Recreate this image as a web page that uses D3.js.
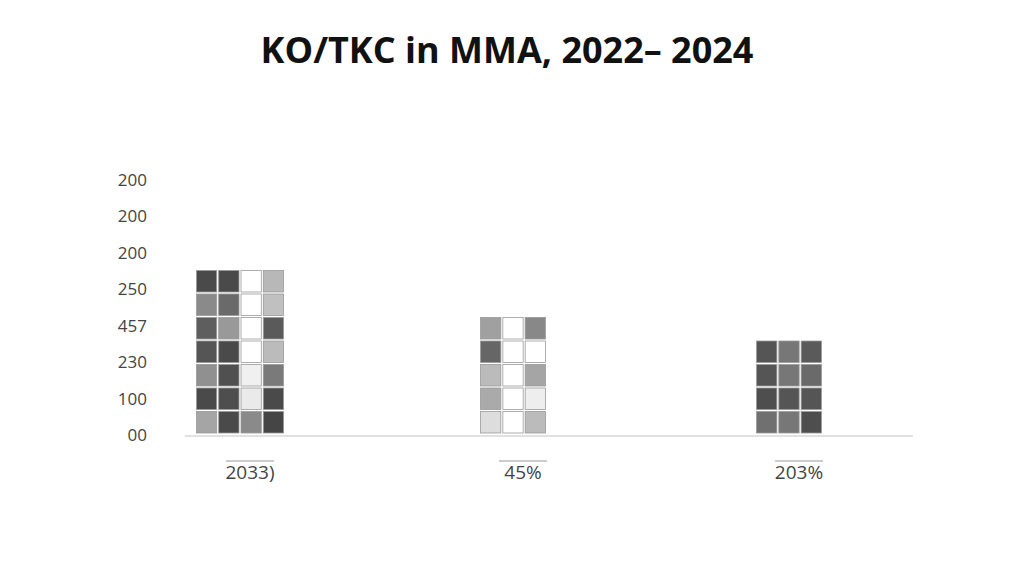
<!DOCTYPE html>
<html>
<head>
<meta charset="utf-8">
<script src="https://cdn.jsdelivr.net/npm/d3@7"></script>
<style>
  body { margin: 0; background: #fff; }
  text { font-family: "Open Sans", "DejaVu Sans", sans-serif; }
</style>
</head>
<body>
<div id="viz"></div>
<script>
const categories = ["2033)", "45%", "203%"];
const yTickLabels = ["200", "200", "200", "250", "457", "230", "100", "00"];
// grey level of each waffle cell, top row first
const cellsA = [
  ["#4a4a4a", "#4a4a4a", "#ffffff", "#b8b8b8"],
  ["#8a8a8a", "#6a6a6a", "#ffffff", "#c0c0c0"],
  ["#5e5e5e", "#999999", "#ffffff", "#5a5a5a"],
  ["#555555", "#4a4a4a", "#ffffff", "#bbbbbb"],
  ["#909090", "#505050", "#f0f0f0", "#7a7a7a"],
  ["#4a4a4a", "#4e4e4e", "#eaeaea", "#4a4a4a"],
  ["#a5a5a5", "#4a4a4a", "#8a8a8a", "#454545"]
];
const cellsB = [
  ["#a0a0a0", "#ffffff", "#888888"],
  ["#666666", "#ffffff", "#ffffff"],
  ["#bbbbbb", "#ffffff", "#a5a5a5"],
  ["#aaaaaa", "#ffffff", "#eeeeee"],
  ["#dddddd", "#ffffff", "#bbbbbb"]
];
const cellsC = [
  ["#555555", "#777777", "#5a5a5a"],
  ["#555555", "#777777", "#6a6a6a"],
  ["#4e4e4e", "#555555", "#555555"],
  ["#707070", "#777777", "#4e4e4e"]
];
const groups = [cellsA, cellsB, cellsC];
const groupCenters = [240, 513, 789];

const width = 1024, height = 585;
const baseY = 436;

const svg = d3.select("#viz").append("svg")
  .attr("width", width).attr("height", height);

svg.append("text")
  .attr("x", 507).attr("y", 63)
  .attr("text-anchor", "middle")
  .attr("font-size", 36).attr("font-weight", 700)
  .attr("font-family", "DejaVu Sans, sans-serif")
  .attr("fill", "#111")
  .text("KO/TKC in MMA, 2022\u2013 2024");

// y axis labels
const y = d3.scalePoint().domain(d3.range(yTickLabels.length)).range([180, 435]);
svg.append("g").selectAll("text")
  .data(yTickLabels)
  .join("text")
  .attr("x", 147).attr("y", (d, i) => y(i) + 6)
  .attr("text-anchor", "end")
  .attr("font-size", 17).attr("fill", "#444")
  .text(d => d);

// baseline
svg.append("line")
  .attr("x1", 185).attr("x2", 913)
  .attr("y1", baseY).attr("y2", baseY)
  .attr("stroke", "#c4c4c4").attr("stroke-width", 1.2);

const cellW = 22.3, cellH = 23.5;
const rowScale = d3.scaleLinear().domain([0, 1]).range([baseY - 2, baseY - 2 - cellH]);

groups.forEach((cells, gi) => {
  const cols = cells[0].length, rows = cells.length;
  const x0 = groupCenters[gi] - cols * cellW / 2;
  const flat = [];
  cells.forEach((row, r) => row.forEach((c, k) => flat.push({ r: rows - 1 - r, k, c })));
  svg.append("g").selectAll("rect")
    .data(flat)
    .join("rect")
    .attr("x", d => x0 + d.k * cellW + 1)
    .attr("y", d => rowScale(d.r + 1) + 1)
    .attr("width", cellW - 2)
    .attr("height", cellH - 2)
    .attr("fill", d => d.c)
    .attr("stroke", "#9a9a9a").attr("stroke-width", 0.8);
});

// category labels with overline
const xl = svg.append("g").selectAll("g")
  .data(categories)
  .join("g")
  .attr("transform", (d, i) => `translate(${groupCenters[i] + 10},0)`);
xl.append("line")
  .attr("x1", -24).attr("x2", 24).attr("y1", 461).attr("y2", 461)
  .attr("stroke", "#999");
xl.append("text")
  .attr("y", 479).attr("text-anchor", "middle")
  .attr("font-size", 19).attr("fill", "#444")
  .text(d => d);
</script>
</body>
</html>
